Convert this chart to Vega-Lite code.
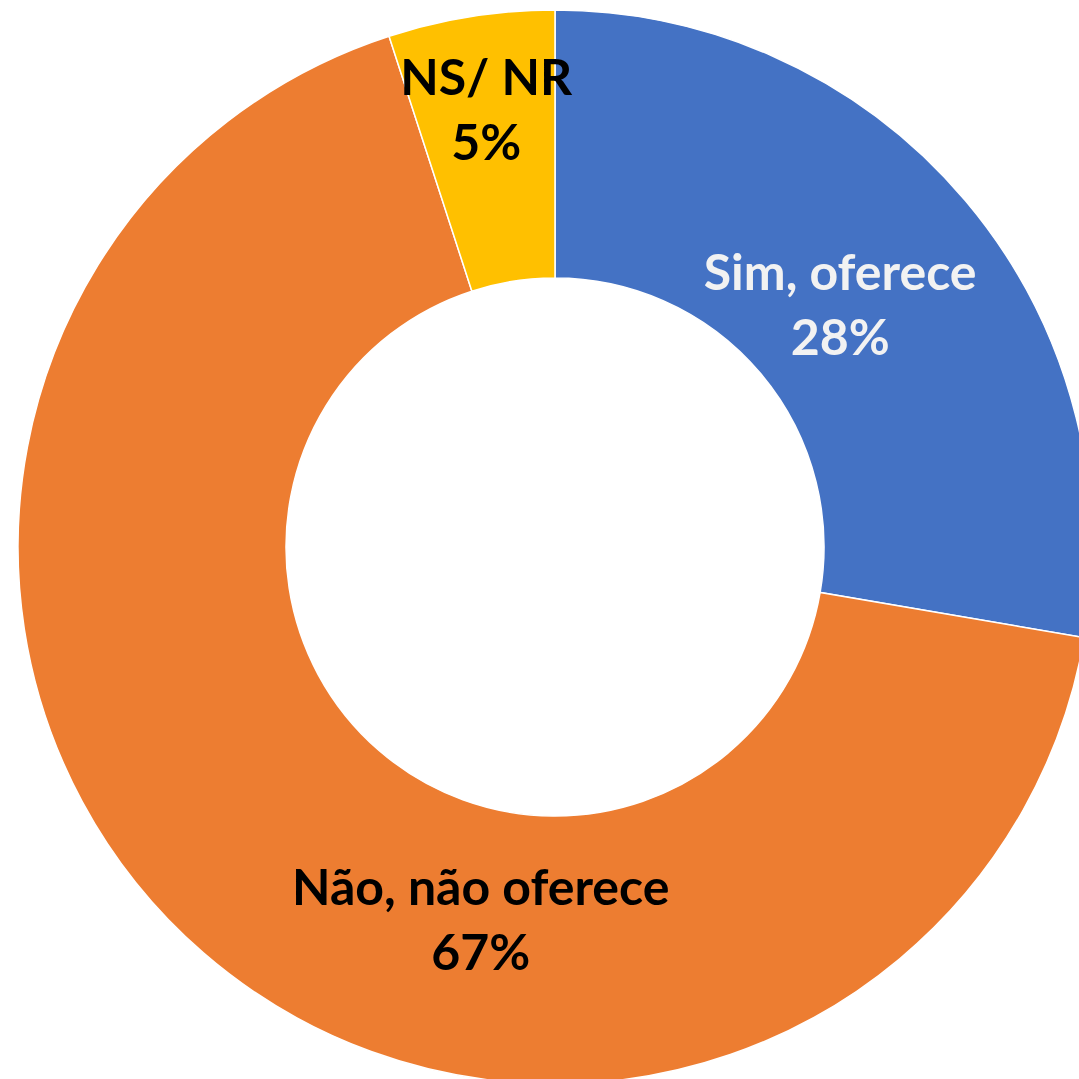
{
  "$schema": "https://vega.github.io/schema/vega-lite/v6.json",
  "width": 1048,
  "height": 1064,
  "autosize": "none",
  "padding": {"left": 31, "top": 15, "right": 0, "bottom": 0},
  "background": "white",
  "view": {"stroke": null},
  "data": {
    "values": [
      {"cat": "Sim, oferece", "value": 27.7, "label": "Sim, oferece\n28%", "ord": 1},
      {"cat": "Não, não oferece", "value": 67.3, "label": "Não, não oferece\n67%", "ord": 2},
      {"cat": "NS/ NR", "value": 5.0, "label": "NS/ NR\n5%", "ord": 3}
    ]
  },
  "encoding": {
    "theta": {"field": "value", "type": "quantitative", "stack": true, "scale": {"domain": [0, 100]}},
    "order": {"field": "ord", "type": "quantitative"}
  },
  "layer": [
    {
      "mark": {"type": "arc", "radius": 537, "innerRadius": 269, "stroke": "white", "strokeWidth": 1.5},
      "encoding": {
        "color": {
          "field": "cat", "type": "nominal", "legend": null,
          "scale": {"domain": ["Sim, oferece", "Não, não oferece", "NS/ NR"], "range": ["#4472C4", "#ED7D31", "#FFC000"]}
        }
      }
    },
    {
      "mark": {"type": "text", "radius": 373, "dy": -32, "font": "Lato", "fontWeight": "bold", "fontSize": 50, "lineBreak": "\n", "lineHeight": 65, "color": "#F2F2F2", "align": "center", "baseline": "middle"},
      "encoding": {
        "text": {"condition": {"test": "datum.cat === 'Sim, oferece'", "field": "label"}, "value": ""}
      }
    },
    {
      "mark": {"type": "text", "radius": 381, "dx": 175, "dy": 55, "font": "Lato", "fontWeight": "bold", "fontSize": 50, "lineBreak": "\n", "lineHeight": 65, "color": "#000000", "align": "center", "baseline": "middle"},
      "encoding": {
        "text": {"condition": {"test": "datum.cat === 'Não, não oferece'", "field": "label"}, "value": ""}
      }
    },
    {
      "mark": {"type": "text", "radius": 440, "dy": -32, "font": "Lato", "fontWeight": "bold", "fontSize": 50, "lineBreak": "\n", "lineHeight": 65, "color": "#000000", "align": "center", "baseline": "middle"},
      "encoding": {
        "text": {"condition": {"test": "datum.cat === 'NS/ NR'", "field": "label"}, "value": ""}
      }
    }
  ]
}
